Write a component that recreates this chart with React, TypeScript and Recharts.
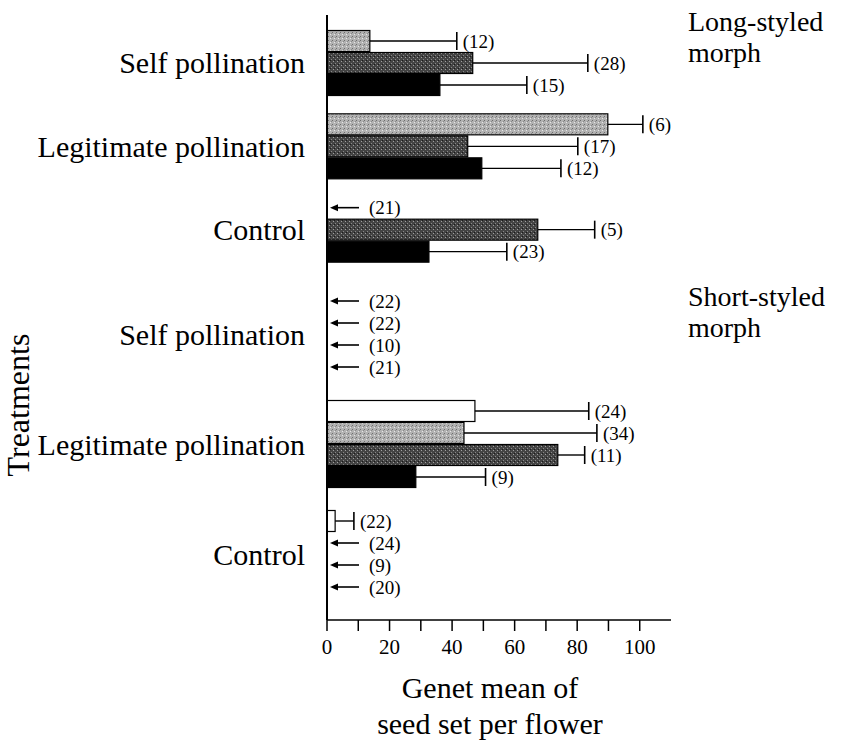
import { BarChart, Bar, XAxis, YAxis } from "recharts";

const treatments = ["Self pollination", "Legitimate pollination", "Control"];

// long-styled morph, mean 0 means no seed set (drawn as an arrow)
const longLightMean = [13.7, 89.8, 0];
const longLightErr = [27.8, 11.2, 0];
const longLightN = [12, 6, 21];
const longDarkMean = [46.6, 45.0, 67.4];
const longDarkErr = [36.8, 35.2, 18.2];
const longDarkN = [28, 17, 5];
const longBlackMean = [36.1, 49.5, 32.6];
const longBlackErr = [27.8, 25.3, 24.9];
const longBlackN = [15, 12, 23];

// short-styled morph
const shortWhiteMean = [0, 47.3, 2.6];
const shortWhiteErr = [0, 36.4, 6.0];
const shortWhiteN = [22, 24, 22];
const shortLightMean = [0, 43.8, 0];
const shortLightErr = [0, 42.5, 0];
const shortLightN = [22, 34, 24];
const shortDarkMean = [0, 73.8, 0];
const shortDarkErr = [0, 8.6, 0];
const shortDarkN = [10, 11, 9];
const shortBlackMean = [0, 28.4, 0];
const shortBlackErr = [0, 22.3, 0];
const shortBlackN = [21, 9, 20];

const xTicks = [0, 10, 20, 30, 40, 50, 60, 70, 80, 90, 100];

const longData = treatments.map((t, i) => ({
  treatment: t,
  light: longLightMean[i],
  lightErr: longLightErr[i],
  lightN: longLightN[i],
  dark: longDarkMean[i],
  darkErr: longDarkErr[i],
  darkN: longDarkN[i],
  black: longBlackMean[i],
  blackErr: longBlackErr[i],
  blackN: longBlackN[i],
}));

const shortData = treatments.map((t, i) => ({
  treatment: t,
  white: shortWhiteMean[i],
  whiteErr: shortWhiteErr[i],
  whiteN: shortWhiteN[i],
  light: shortLightMean[i],
  lightErr: shortLightErr[i],
  lightN: shortLightN[i],
  dark: shortDarkMean[i],
  darkErr: shortDarkErr[i],
  darkN: shortDarkN[i],
  black: shortBlackMean[i],
  blackErr: shortBlackErr[i],
  blackN: shortBlackN[i],
}));

const SERIF = "Liberation Serif, Times New Roman, Times, DejaVu Serif, serif";
const FILLS: Record<string, string> = {
  white: "#ffffff",
  light: "url(#lightDots)",
  dark: "url(#darkDots)",
  black: "#000000",
};

const meanShape = (fill: string) => (props: any) => {
  const { x, y, width, height } = props;
  const cy = y + height / 2;
  if (!width || width < 0.5) {
    // zero seed set
    return (
      <g>
        <line x1={x + 6} x2={x + 32} y1={cy} y2={cy} stroke="#000" strokeWidth={1.6} />
        <path d={`M${x + 3},${cy} l8,-3.5 l0,7 z`} fill="#000" />
      </g>
    );
  }
  return (
    <rect x={x} y={y + 0.5} width={width} height={height - 1} fill={fill} stroke="#000" strokeWidth={1.2} />
  );
};

const whiskerShape = (meanKey: string, nKey: string) => (props: any) => {
  const { x, y, width, height, payload } = props;
  const cy = y + height / 2;
  const n = payload[nKey];
  const textStyle = { fontFamily: SERIF, fontSize: 19, fill: "#000" };
  if (!payload[meanKey]) {
    return (
      <text x={x + 42} y={cy} dominantBaseline="central" style={textStyle}>
        ({n})
      </text>
    );
  }
  const end = x + width;
  return (
    <g>
      <line x1={x} x2={end} y1={cy} y2={cy} stroke="#000" strokeWidth={1.4} />
      <line x1={end} x2={end} y1={cy - 9} y2={cy + 9} stroke="#000" strokeWidth={1.6} />
      <text x={end + 6} y={cy} dominantBaseline="central" style={textStyle}>
        ({n})
      </text>
    </g>
  );
};

const catTick = { fontSize: 30, fill: "#000", fontFamily: SERIF };

function series(keys: string[], axisId: string) {
  return keys.flatMap((k) => [
    <Bar
      key={k}
      xAxisId={axisId}
      dataKey={k}
      stackId={k}
      shape={meanShape(FILLS[k])}
      isAnimationActive={false}
    />,
    <Bar
      key={k + "Err"}
      xAxisId={axisId}
      dataKey={k + "Err"}
      stackId={k}
      shape={whiskerShape(k, k + "N")}
      isAnimationActive={false}
    />,
  ]);
}

export default function App() {
  return (
    <div
      style={{
        position: "absolute",
        left: 0,
        top: 0,
        width: 847,
        height: 746,
        background: "#fff",
        fontFamily: SERIF,
        color: "#000",
      }}
    >
      <svg width={0} height={0} style={{ position: "absolute" }}>
        <defs>
          <pattern id="lightDots" width={4} height={4} patternUnits="userSpaceOnUse">
            <rect width={4} height={4} fill="#b2b2b2" />
            <rect x={0} y={0} width={1} height={1} fill="#6e6e6e" />
            <rect x={2} y={2} width={1} height={1} fill="#e6e6e6" />
            <rect x={3} y={1} width={1} height={1} fill="#8a8a8a" />
          </pattern>
          <pattern id="darkDots" width={4} height={4} patternUnits="userSpaceOnUse">
            <rect width={4} height={4} fill="#444" />
            <rect x={1} y={1} width={1} height={1} fill="#a0a0a0" />
            <rect x={3} y={3} width={1} height={1} fill="#888" />
            <rect x={2} y={0} width={1} height={1} fill="#1a1a1a" />
          </pattern>
        </defs>
      </svg>

      <div style={{ position: "absolute", left: 0, top: 0 }}>
        <BarChart
          layout="vertical"
          width={847}
          height={277}
          data={longData}
          margin={{ top: 15, right: 176, bottom: 0, left: 0 }}
          barSize={22}
          barGap={0}
        >
          <XAxis
            xAxisId="main"
            type="number"
            domain={[0, 110]}
            orientation="top"
            height={0}
            tick={false}
            tickLine={false}
            axisLine={{ stroke: "#000", strokeWidth: 1.5 }}
          />
          <YAxis
            type="category"
            dataKey="treatment"
            width={327}
            padding={{ top: 6, bottom: 6 }}
            tickLine={false}
            tickSize={0}
            tickMargin={22}
            axisLine={{ stroke: "#000", strokeWidth: 2 }}
            tick={catTick}
          />
          {series(["light", "dark", "black"], "main")}
        </BarChart>
      </div>

      <div style={{ position: "absolute", left: 0, top: 277 }}>
        <BarChart
          layout="vertical"
          width={847}
          height={383}
          data={shortData}
          margin={{ top: 0, right: 176, bottom: 0, left: 0 }}
          barSize={22}
          barGap={0}
        >
          <XAxis
            xAxisId="top"
            type="number"
            domain={[0, 110]}
            orientation="top"
            height={0}
            tick={false}
            tickLine={false}
            axisLine={{ stroke: "#000", strokeWidth: 1.5 }}
          />
          <XAxis
            xAxisId="main"
            type="number"
            domain={[0, 110]}
            ticks={xTicks}
            interval={0}
            tickFormatter={(v: number) => (v % 20 === 0 ? String(v) : "")}
            tickSize={11}
            tickMargin={8}
            tickLine={{ stroke: "#000", strokeWidth: 1.5 }}
            axisLine={{ stroke: "#000", strokeWidth: 1.5 }}
            height={40}
            tick={{ fontSize: 21, fill: "#000", fontFamily: SERIF }}
          />
          <YAxis
            type="category"
            dataKey="treatment"
            width={327}
            padding={{ top: 2, bottom: 11 }}
            tickLine={false}
            tickSize={0}
            tickMargin={22}
            axisLine={{ stroke: "#000", strokeWidth: 2 }}
            tick={catTick}
          />
          {series(["white", "light", "dark", "black"], "main")}
        </BarChart>
      </div>

      <div
        style={{
          position: "absolute",
          left: 18,
          top: 405,
          transform: "translate(-50%, -50%) rotate(-90deg)",
          fontSize: 32,
          whiteSpace: "nowrap",
        }}
      >
        Treatments
      </div>

      <div
        style={{
          position: "absolute",
          left: 340,
          width: 300,
          top: 670,
          fontSize: 30,
          lineHeight: "36px",
          textAlign: "center",
        }}
      >
        Genet mean of
        <br />
        seed set per flower
      </div>

      <div style={{ position: "absolute", left: 688, top: 6, fontSize: 28, lineHeight: "31px" }}>
        Long-styled
        <br />
        morph
      </div>
      <div style={{ position: "absolute", left: 688, top: 281, fontSize: 28, lineHeight: "31px" }}>
        Short-styled
        <br />
        morph
      </div>
    </div>
  );
}
